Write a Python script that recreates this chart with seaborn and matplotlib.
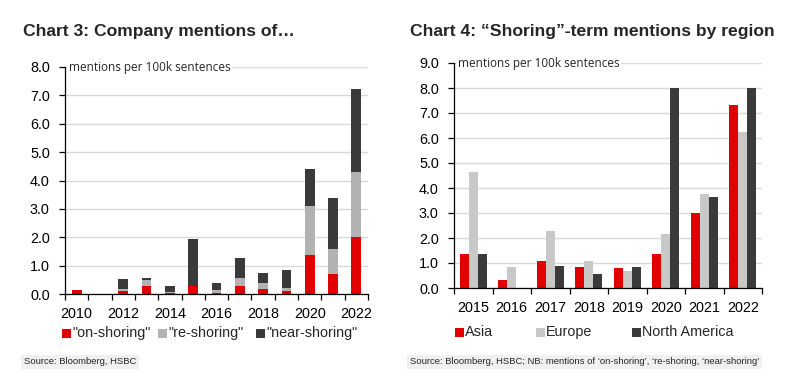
import matplotlib
matplotlib.use("Agg")
import matplotlib.pyplot as plt
import seaborn as sns
import pandas as pd
import numpy as np
from matplotlib.patches import Rectangle

# ---------------- data ----------------
years3 = ["2010", "2011", "2012", "2013", "2014", "2015", "2016",
          "2017", "2018", "2019", "2020", "2021", "2022"]
on_shoring = [0.13, 0.0, 0.12, 0.28, 0.02, 0.29, 0.04, 0.28, 0.18, 0.12, 1.36, 0.69, 2.02]
re_shoring = [0.0, 0.0, 0.06, 0.22, 0.05, 0.0, 0.10, 0.27, 0.21, 0.08, 1.75, 0.88, 2.28]
near_shoring = [0.0, 0.0, 0.36, 0.05, 0.21, 1.64, 0.25, 0.71, 0.36, 0.66, 1.28, 1.80, 2.94]
series3 = ['"on-shoring"', '"re-shoring"', '"near-shoring"']

years4 = ["2015", "2016", "2017", "2018", "2019", "2020", "2021", "2022"]
asia = [1.36, 0.32, 1.08, 0.84, 0.79, 1.36, 3.00, 7.34]
europe = [4.63, 0.84, 2.30, 1.08, 0.67, 2.18, 3.75, 6.23]
north_america = [1.36, 0.0, 0.90, 0.56, 0.84, 8.02, 3.63, 8.02]
regions = ["Asia", "Europe", "North America"]

RED = "#E00000"
GREY3 = "#B2B2B2"
DARK = "#3A3A3A"
GREY4 = "#C8C8C8"
GRID = "#D9D9D9"

NARROW = ["Liberation Sans", "DejaVu Sans"]
BOLD = ["Liberation Sans", "DejaVu Sans"]
SMALL = ["Open Sans", "DejaVu Sans"]

sns.set_theme(style="white")
plt.rcParams["font.family"] = NARROW

W, H = 788, 388
fig = plt.figure(figsize=(W / 100, H / 100), dpi=100)

def fx(px):
    return px / W

def fy(py):
    return 1 - py / H

ax3 = fig.add_axes([fx(65), fy(294), fx(368) - fx(65), fy(67) - fy(294)])
ax4 = fig.add_axes([fx(454), fy(288), fx(762) - fx(454), fy(63) - fy(288)])

# ---------------- chart 3 (stacked) ----------------
df3 = pd.DataFrame({"year": years3, "on": on_shoring, "re": re_shoring, "near": near_shoring})
df3["c1"] = df3["on"]
df3["c2"] = df3["on"] + df3["re"]
df3["c3"] = df3["on"] + df3["re"] + df3["near"]
for col, colr in [("c3", DARK), ("c2", GREY3), ("c1", RED)]:
    sns.barplot(data=df3, x="year", y=col, order=years3, color=colr, width=0.42,
                saturation=1, ax=ax3, zorder=3, linewidth=0)

# ---------------- chart 4 (grouped) ----------------
df4 = pd.DataFrame({
    "year": years4 * 3,
    "region": sum([[r] * len(years4) for r in regions], []),
    "value": asia + europe + north_america,
})
sns.barplot(data=df4, x="year", y="value", hue="region", order=years4, hue_order=regions,
            palette=[RED, GREY4, DARK], width=0.69, gap=0, saturation=1, ax=ax4,
            zorder=3, linewidth=0, legend=False)

TICK_FS = 10.4

def style(ax, ymax, n, labels, label_idx):
    ax.set_ylim(0, ymax)
    ax.set_xlim(-0.5, n - 0.5)
    ax.set_yticks(np.arange(0, ymax + 0.01, 1.0))
    ax.set_yticklabels([f"{v:.1f}" for v in np.arange(0, ymax + 0.01, 1.0)],
                       fontsize=TICK_FS, family=NARROW)
    ax.set_xticks(label_idx)
    ax.set_xticklabels([labels[i] for i in label_idx], fontsize=TICK_FS, family=NARROW)
    ax.set_xticks(np.arange(-0.5, n, 1.0), minor=True)
    ax.tick_params(axis="x", which="major", length=0, pad=9, colors="black")
    ax.tick_params(axis="x", which="minor", length=4, width=0.9, direction="out",
                   bottom=True, color="black")
    ax.tick_params(axis="y", length=4, width=0.9, direction="out", left=True,
                   pad=7, color="black", labelcolor="black")
    for s in ["top", "right"]:
        ax.spines[s].set_visible(False)
    for s in ["left", "bottom"]:
        ax.spines[s].set_color("black")
        ax.spines[s].set_linewidth(0.9)
    ax.spines["left"].set_zorder(5)
    ax.spines["bottom"].set_zorder(5)
    ax.yaxis.grid(True, color=GRID, linewidth=1.0, zorder=0)
    ax.set_axisbelow(True)
    ax.set_xlabel("")
    ax.set_ylabel("")
    ax.set_facecolor("white")
    ax.text(0.012, 1.0, "mentions per 100k sentences", transform=ax.transAxes,
            fontsize=8.5, family=SMALL, va="center", ha="left", zorder=6,
            bbox=dict(facecolor="white", edgecolor="none", pad=1.0))

style(ax3, 8, len(years3), years3, list(range(0, len(years3), 2)))
style(ax4, 9, len(years4), years4, list(range(len(years4))))

# ---------------- titles ----------------
fig.text(fx(23), fy(36), "Chart 3: Company mentions of…", fontsize=12.6,
         fontweight="bold", family=BOLD, va="baseline", ha="left")
fig.text(fx(410), fy(36), "Chart 4: \u201cShoring\u201d-term mentions by region", fontsize=12.6,
         fontweight="bold", family=BOLD, va="baseline", ha="left")

# ---------------- legends ----------------
def legend_item(xsq, ycen, color, label):
    sq = 9
    fig.patches.append(Rectangle((fx(xsq), fy(ycen + sq / 2)), sq / W, sq / H,
                                 transform=fig.transFigure, facecolor=color,
                                 edgecolor="none"))
    fig.text(fx(xsq + sq + 1), fy(ycen), label, fontsize=TICK_FS, family=NARROW,
             va="center", ha="left")

for xs, c, lab in zip([62, 158, 256], [RED, GREY3, DARK], series3):
    legend_item(xs, 333, c, lab)
for xs, c, lab in zip([455, 536, 632], [RED, GREY4, DARK], regions):
    legend_item(xs, 332, c, lab)

# ---------------- sources ----------------
fig.text(fx(24), fy(362), "Source: Bloomberg, HSBC", fontsize=6.8, family=NARROW,
         va="center", ha="left",
         bbox=dict(facecolor="#F0F0F0", edgecolor="none", pad=2.0))
fig.text(fx(410), fy(362),
         "Source: Bloomberg, HSBC; NB: mentions of \u2018on-shoring\u2019, \u2018re-shoring, \u2018near-shoring\u2019",
         fontsize=6.8, family=NARROW, va="center", ha="left",
         bbox=dict(facecolor="#F0F0F0", edgecolor="none", pad=2.0))

fig.savefig("out.png", dpi=100, facecolor="white")
